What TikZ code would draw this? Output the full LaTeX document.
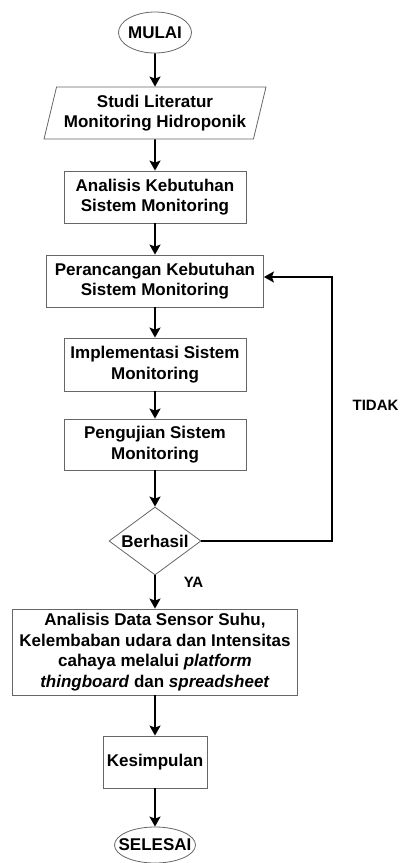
\documentclass[tikz,border=0pt]{standalone}
\usepackage{fontspec}
\setmainfont{Liberation Sans}
\usetikzlibrary{arrows.meta,shapes.geometric}
\definecolor{boxgray}{HTML}{666666}

\begin{document}
\begin{tikzpicture}[x=1pt,y=-1pt,
    font=\bfseries\fontsize{17}{20.5}\selectfont,
    box/.style={draw=boxgray,line width=0.8pt,fill=white,align=center,inner sep=0pt},
    term/.style={box,ellipse,inner xsep=-14pt},
    flow/.style={-{Stealth[length=10pt,width=11pt,inset=2pt]},line width=1.8pt}]
  \useasboundingbox (0,0) rectangle (400,863);
  \node[term,minimum width=73,minimum height=41] (mulai) at (155,32.5) {MULAI};
  \node[box,trapezium,trapezium left angle=71,trapezium right angle=109,
        trapezium stretches body,minimum width=222,minimum height=52] (studi) at (155,113)
       {Studi Literatur\\Monitoring Hidroponik};
  \node[box,minimum width=182,minimum height=52] (analisis) at (155,197)
       {Analisis Kebutuhan\\Sistem Monitoring};
  \node[box,minimum width=217,minimum height=52] (rancang) at (155,281)
       {Perancangan Kebutuhan\\Sistem Monitoring};
  \node[box,minimum width=182,minimum height=53] (impl) at (155,364.5)
       {Implementasi Sistem\\Monitoring};
  \node[box,minimum width=182,minimum height=51] (uji) at (155,444.5)
       {Pengujian Sistem\\Monitoring};
  \node[box,diamond,aspect=1.35,minimum width=92,minimum height=68] (ber) at (155,541) {Berhasil};
  \node[box,minimum width=285,minimum height=86] (data) at (155,652)
       {Analisis Data Sensor Suhu,\\Kelembaban udara dan Intensitas\\
        cahaya melalui \textit{platform}\\\textit{thingboard} dan \textit{spreadsheet}};
  \node[box,minimum width=104,minimum height=52] (simpul) at (155,762) {Kesimpulan};
  \node[term,minimum width=81,minimum height=36] (selesai) at (155,845) {SELESAI};
  % main flow top to bottom
  \draw[flow] (mulai) -- (studi);
  \draw[flow] (studi) -- (analisis);
  \draw[flow] (analisis) -- (rancang);
  \draw[flow] (rancang) -- (impl);
  \draw[flow] (impl) -- (uji);
  \draw[flow] (uji) -- (ber);
  \draw[flow] (ber) -- (data);
  \draw[flow] (data) -- (simpul);
  \draw[flow] (simpul) -- (selesai);
  % back to design when the test fails
  \coordinate (back) at (332,541);
  \draw[flow] (ber.east) -- (back) |- ([yshift=4pt]rancang.east);
  \node[font=\bfseries\fontsize{15}{18}\selectfont] (tidak) at (375.5,405) {TIDAK};
  \node[font=\bfseries\fontsize{15}{18}\selectfont] (ya) at (193.5,582) {YA};
\end{tikzpicture}
\end{document}
